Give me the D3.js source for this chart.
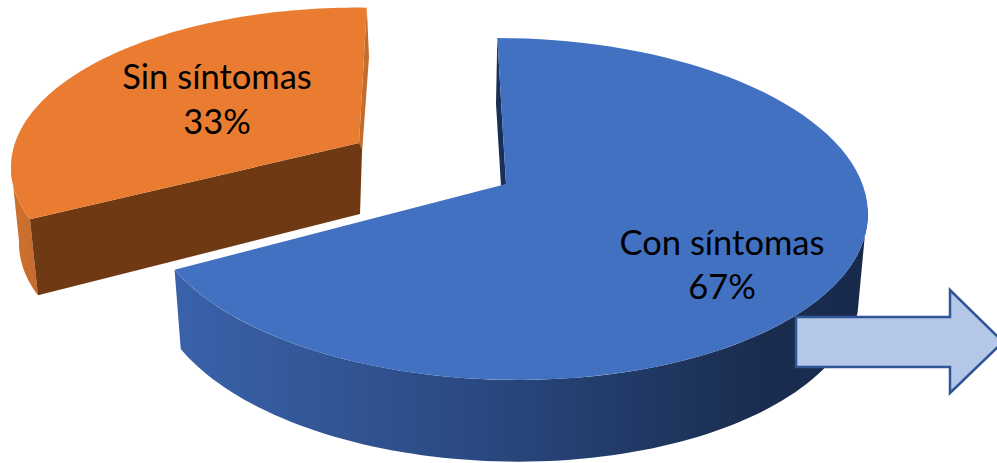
<!doctype html>
<html lang="es">
<head>
<meta charset="utf-8">
<title>Con síntomas / Sin síntomas</title>
<script src="https://cdn.jsdelivr.net/npm/d3@7"></script>
<style>
html, body { margin: 0; padding: 0; background: #fff; overflow: hidden; }
svg { display: block; }
text { font-family: Lato, "Open Sans", sans-serif; fill: #000; text-anchor: middle; }
</style>
</head>
<body>
<div id="viz"></div>
<script>
// DATA
var categories = ["Con síntomas", "Sin síntomas"];
var values = [67, 33];

// Dimensions
var w = 997, h = 463;
var deg = Math.PI / 180;

var svg = d3.select("#viz").append("svg")
	.attr("width", w)
	.attr("height", h)
	.attr("viewBox", "0 0 " + w + " " + h);

var defs = svg.append("defs");

function gradient(id, x1, x2, stops) {
	var g = defs.append("linearGradient")
		.attr("id", id)
		.attr("gradientUnits", "userSpaceOnUse")
		.attr("x1", x1).attr("x2", x2).attr("y1", 0).attr("y2", 0);
	stops.forEach(function (s) {
		g.append("stop").attr("offset", s[0]).attr("stop-color", s[1]);
	});
}
gradient("blueWall", 176, 860, [[0, "#3a62aa"], [0.45, "#2a4880"], [0.85, "#1a2d50"], [1, "#182a4c"]]);
gradient("orangeWall", 12, 40, [[0, "#cf7332"], [1, "#c56a2b"]]);

// PIE LAYOUT - both slices come from here, the rest is the fake perspective
var pie = d3.pie().sort(null).value(function (d) { return d; })
	.startAngle(0).endAngle(2 * Math.PI);
var slices = pie(values);

// ring = perspective view of the unit circle
function ring(o) {
	return function (a) {
		var u = Math.sin(a), v = -Math.cos(a);
		var s = 1 / (1 - v * o.p);
		return [o.cx + (u * o.b + v * o.k) * s, o.cy + v * o.a * s];
	};
}
function arcPoints(fn, a0, a1) {
	var n = 90;
	return d3.range(n + 1).map(function (i) { return fn(a0 + (a1 - a0) * i / n); });
}
var line = d3.line();

// BLUE SLICE
var blueTop = ring({cx: 506, cy: 183, a: 167, b: 356, k: 10, p: 0.152});
var blueBottom = ring({cx: 505, cy: 260, a: 171, b: 349, k: 11, p: 0.152});
var b0 = slices[0].startAngle, b1 = slices[0].endAngle;
var blueApex = [506, 184];

// inner wall sliver behind the top edge
svg.append("path")
	.attr("d", line([blueTop(b0), [496, 104], [501, 186], blueApex]) + "Z")
	.attr("fill", "#1a2f57");

// outer wall, the two rings start at different angles to get the straight right edge
svg.append("path")
	.attr("d", line(arcPoints(blueTop, 98 * deg, b1).concat(arcPoints(blueBottom, 107 * deg, b1).reverse())) + "Z")
	.attr("fill", "url(#blueWall)");

// top face
svg.append("path")
	.attr("d", line(arcPoints(blueTop, b0, b1).concat([blueApex])) + "Z")
	.attr("fill", "#4271c1");

// ORANGE SLICE (pulled out and turned a little)
var turn = 1.7 * deg - (slices[1].endAngle - 2 * Math.PI);
var o0 = slices[1].startAngle + turn, o1 = slices[1].endAngle + turn;
var orangeTop = ring({cx: 358, cy: 143, a: 156, b: 343, k: 0, p: 0.152});
var orangeBottom = ring({cx: 366, cy: 219, a: 156, b: 343, k: 0, p: 0.152});
var orangeApex = [359, 143];

svg.append("path")
	.attr("d", line(arcPoints(orangeTop, o0, 262 * deg).concat(arcPoints(orangeBottom, o0, 262 * deg).reverse())) + "Z")
	.attr("fill", "url(#orangeWall)");

svg.append("path")
	.attr("d", line([orangeTop(o1), [369, 57], [362, 153], orangeApex]) + "Z")
	.attr("fill", "#c46c2d");

svg.append("path")
	.attr("d", line([orangeApex, orangeTop(o0), orangeBottom(o0), [360, 214], [362, 150]]) + "Z")
	.attr("fill", "#6f3914");

svg.append("path")
	.attr("d", line(arcPoints(orangeTop, o0, o1).concat([orangeApex])) + "Z")
	.attr("fill", "#ea7c31");

// ARROW
svg.append("path")
	.attr("d", line([[796, 317], [950, 317], [950, 290], [1003, 342], [950, 393], [950, 367], [796, 367]]) + "Z")
	.attr("fill", "#b4c7e7")
	.attr("stroke", "#2f5597")
	.attr("stroke-width", 2.5);

// LABELS
var labelPos = [[722, 255, 299], [217, 89, 134]];
categories.forEach(function (c, i) {
	svg.append("text").attr("x", labelPos[i][0]).attr("y", labelPos[i][1])
		.attr("font-size", 34.5).text(c);
	svg.append("text").attr("x", labelPos[i][0]).attr("y", labelPos[i][2])
		.attr("font-size", 34.5).text(values[i] + "%");
});
</script>
</body>
</html>
